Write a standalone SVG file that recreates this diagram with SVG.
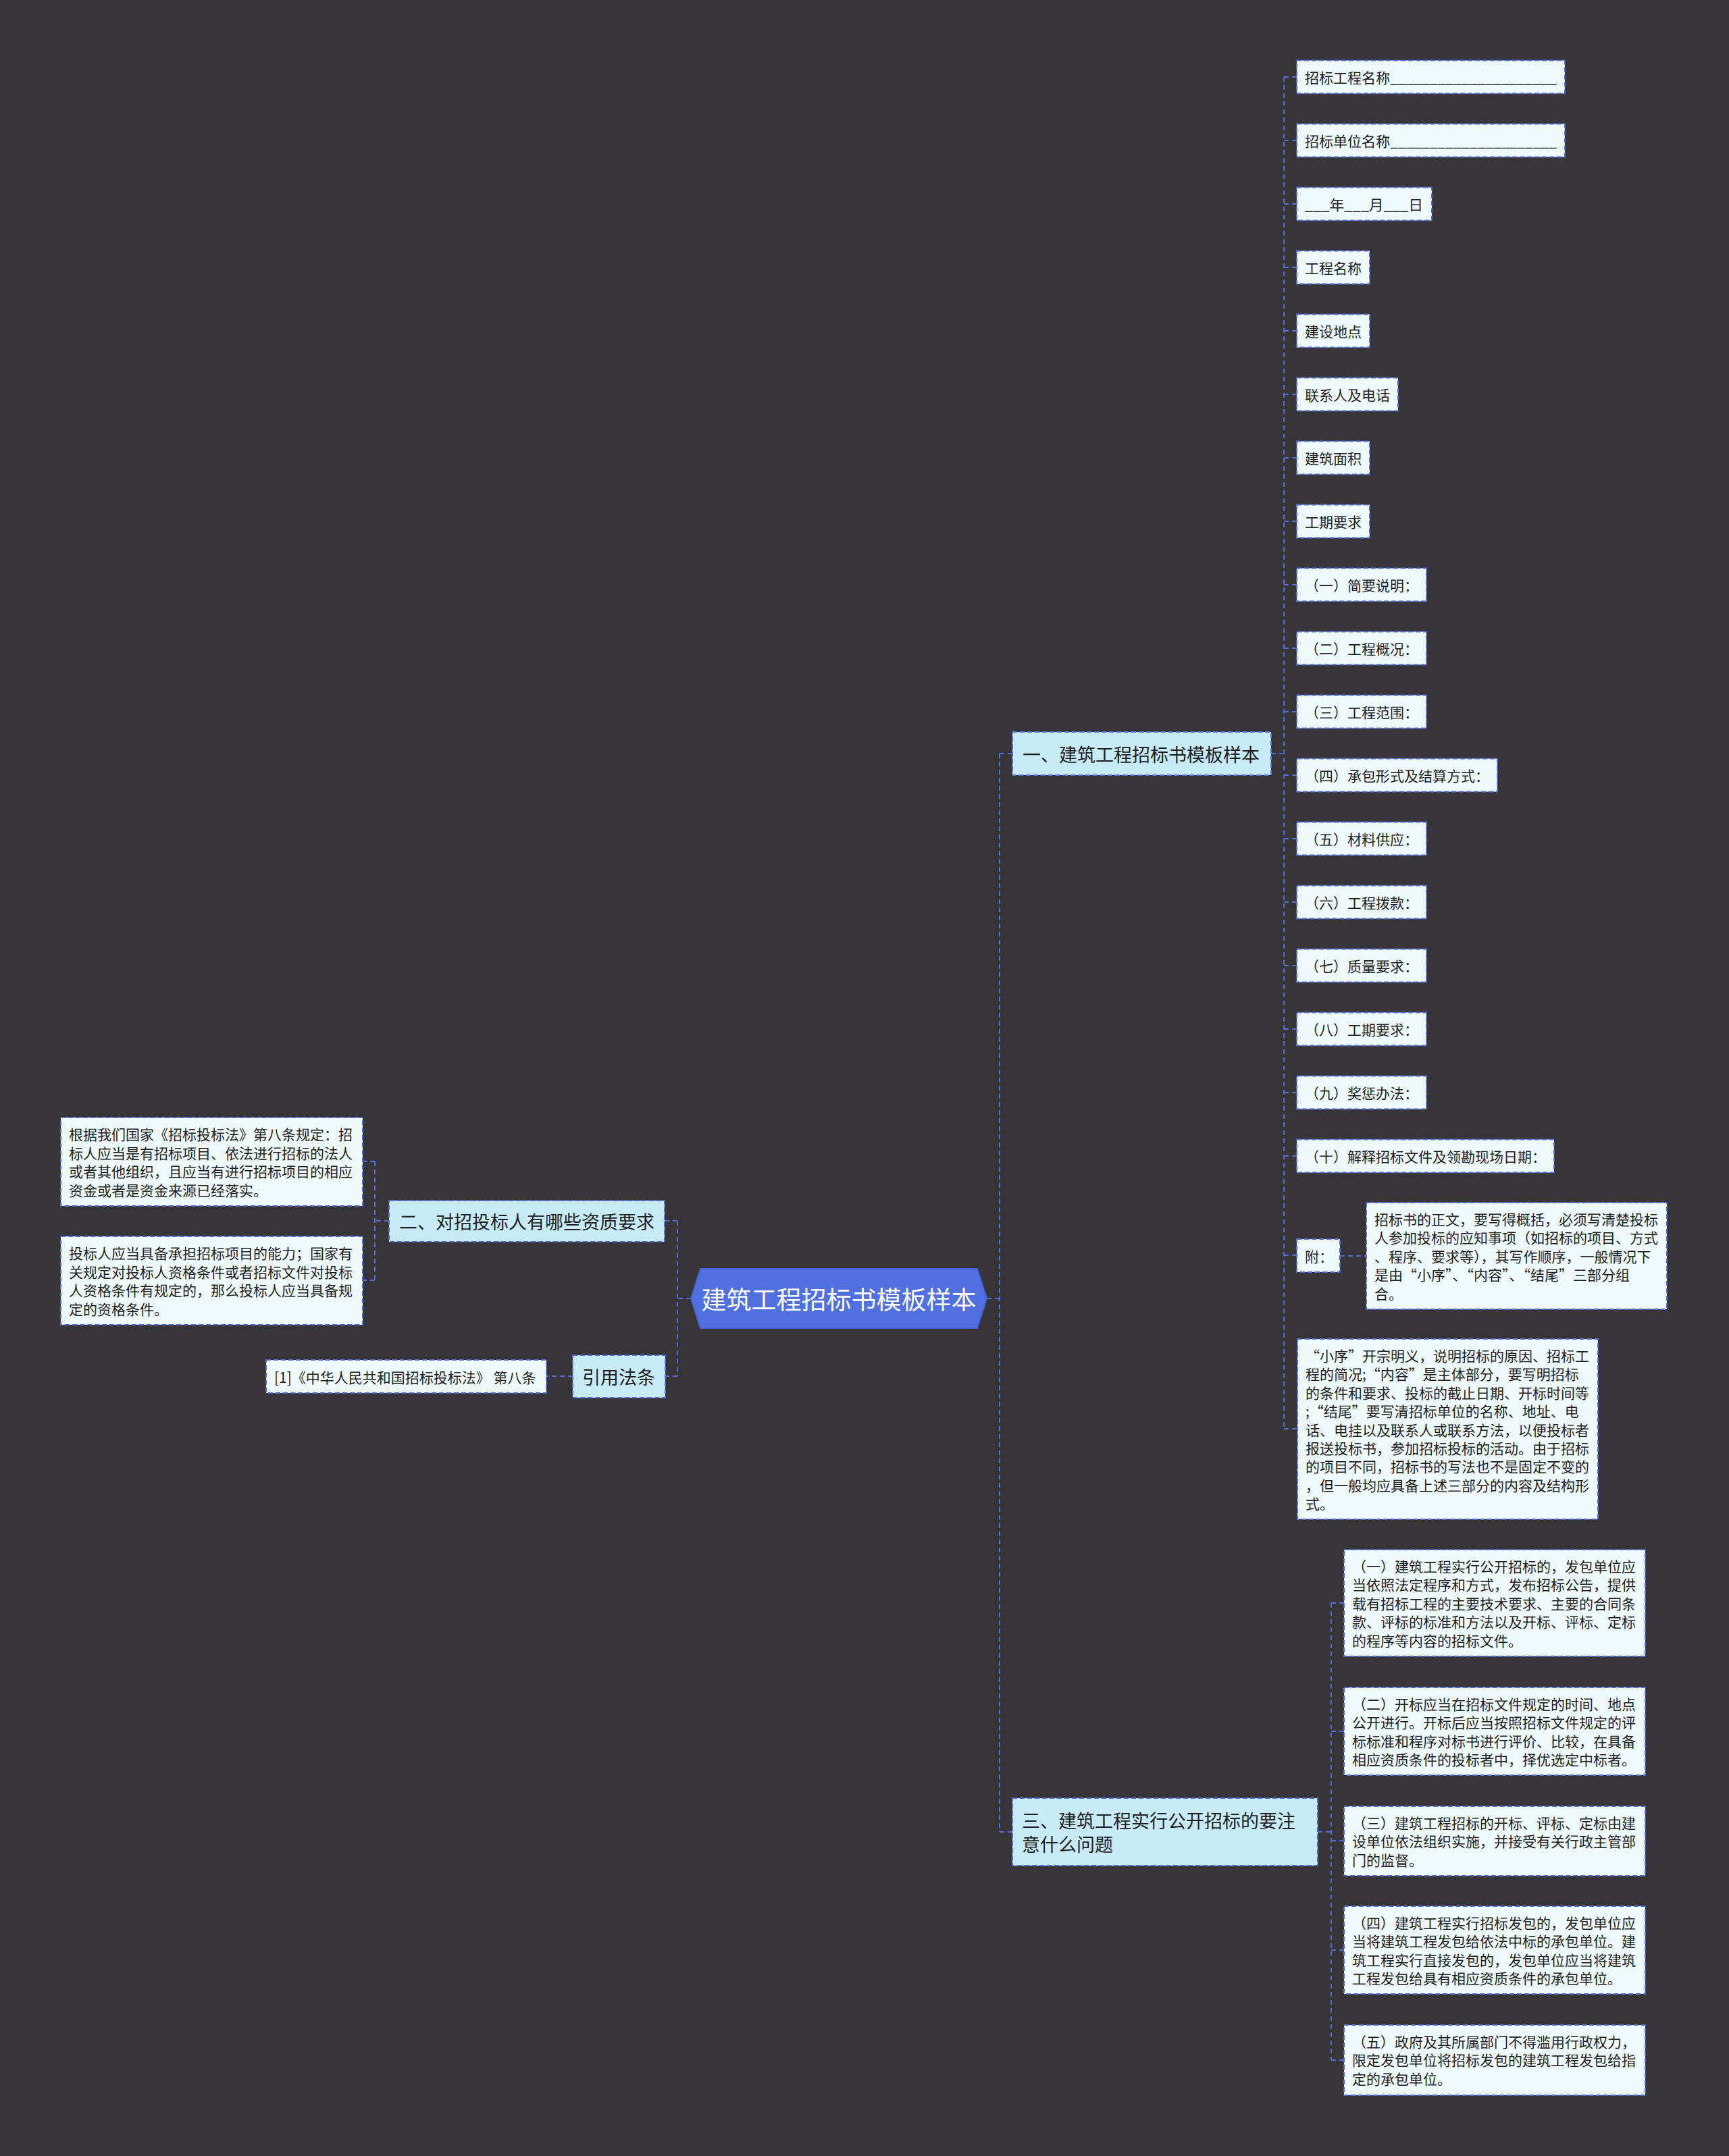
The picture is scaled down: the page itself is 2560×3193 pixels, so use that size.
<svg xmlns="http://www.w3.org/2000/svg" width="2560" height="3193" viewBox="0 0 2560 3193">
<style>
text{font-family:"Noto Sans CJK SC","Noto Sans",sans-serif;fill:#1e1e1e;dominant-baseline:central}
.leaf{fill:#EFFAFC;stroke:#4F6BD8;stroke-width:2;stroke-dasharray:7 4}
.br{fill:#C8EBFA;stroke:#4F6BD8;stroke-width:2;stroke-dasharray:7 4}
.s{font-size:21px}
.m{font-size:27px}
.c{fill:none;stroke:#5470D8;stroke-width:2;stroke-dasharray:7 5}
</style>
<rect x="0" y="0" width="2560" height="3193" fill="#373538"/>
<g id="connectors">
<path class="c" d="M1461 1923H1480M1480 1116V2713M1480 1116H1499M1480 2713H1499"/>
<path class="c" d="M1023 1923H1003M1003 1808V2038M1003 1808H984M1003 2038H984"/>
<path class="c" d="M1882 1116H1901M1901 114V2116"/>
<path class="c" d="M1901 114H1920M1901 208H1920M1901 302H1920M1901 396H1920M1901 490H1920M1901 584H1920M1901 678H1920M1901 772H1920M1901 866H1920M1901 960H1920M1901 1054H1920M1901 1148H1920M1901 1242H1920M1901 1336H1920M1901 1430H1920M1901 1524H1920M1901 1618H1920M1901 1712H1920M1901 1859H1920M1901 2116H1921"/>
<path class="c" d="M1984 1860H2023"/>
<path class="c" d="M576 1808H555M555 1720V1896M555 1720H537M555 1896H537"/>
<path class="c" d="M848 2038H809"/>
<path class="c" d="M1951 2713H1971M1971 2374V3051M1971 2374H1990M1971 2564H1990M1971 2726H1990M1971 2888H1990M1971 3051H1990"/>
</g>
<g id="root">
<polygon points="1023,1923 1037,1879 1447,1879 1461,1923 1447,1967 1037,1967" fill="#5070E0" stroke="#4663D0" stroke-width="2"/>
<text x="1242" y="1923" text-anchor="middle" style="font-size:37px;fill:#ffffff">建筑工程招标书模板样本</text>
</g>
<g id="b1">
<rect class="br" x="1499" y="1084" width="383" height="64"/>
<text class="m" x="1514" y="1116">一、建筑工程招标书模板样本</text>
</g>
<g id="b2">
<rect class="br" x="576" y="1778" width="408" height="61"/>
<text class="m" x="591" y="1808">二、对招投标人有哪些资质要求</text>
</g>
<g id="b4">
<rect class="br" x="848" y="2007" width="137" height="63"/>
<text class="m" x="862" y="2038">引用法条</text>
</g>
<g id="b3">
<rect class="br" x="1499" y="2663" width="452" height="100"/>
<text class="m" x="1513" y="2695.5">三、建筑工程实行公开招标的要注</text>
<text class="m" x="1513" y="2730.5">意什么问题</text>
</g>
<g id="n1"><rect class="leaf" x="1920" y="89.5" width="397" height="49"/><text class="s" x="1932" y="114" textLength="373" lengthAdjust="spacingAndGlyphs">招标工程名称_____________________</text></g>
<g id="n2"><rect class="leaf" x="1920" y="183.5" width="397" height="49"/><text class="s" x="1932" y="208" textLength="373" lengthAdjust="spacingAndGlyphs">招标单位名称_____________________</text></g>
<g id="n3"><rect class="leaf" x="1920" y="277.5" width="200" height="49"/><text class="s" x="1932" y="302" textLength="175" lengthAdjust="spacingAndGlyphs">___年___月___日</text></g>
<g id="n4"><rect class="leaf" x="1920" y="371.5" width="108" height="49"/><text class="s" x="1932" y="396">工程名称</text></g>
<g id="n5"><rect class="leaf" x="1920" y="465.5" width="108" height="49"/><text class="s" x="1932" y="490">建设地点</text></g>
<g id="n6"><rect class="leaf" x="1920" y="559.5" width="150" height="49"/><text class="s" x="1932" y="584">联系人及电话</text></g>
<g id="n7"><rect class="leaf" x="1920" y="653.5" width="108" height="49"/><text class="s" x="1932" y="678">建筑面积</text></g>
<g id="n8"><rect class="leaf" x="1920" y="747.5" width="108" height="49"/><text class="s" x="1932" y="772">工期要求</text></g>
<g id="n9"><rect class="leaf" x="1920" y="841.5" width="192" height="49"/><text class="s" x="1932" y="866">（一）简要说明：</text></g>
<g id="n10"><rect class="leaf" x="1920" y="935.5" width="192" height="49"/><text class="s" x="1932" y="960">（二）工程概况：</text></g>
<g id="n11"><rect class="leaf" x="1920" y="1029.5" width="192" height="49"/><text class="s" x="1932" y="1054">（三）工程范围：</text></g>
<g id="n12"><rect class="leaf" x="1920" y="1123.5" width="297" height="49"/><text class="s" x="1932" y="1148">（四）承包形式及结算方式：</text></g>
<g id="n13"><rect class="leaf" x="1920" y="1217.5" width="192" height="49"/><text class="s" x="1932" y="1242">（五）材料供应：</text></g>
<g id="n14"><rect class="leaf" x="1920" y="1311.5" width="192" height="49"/><text class="s" x="1932" y="1336">（六）工程拨款：</text></g>
<g id="n15"><rect class="leaf" x="1920" y="1405.5" width="192" height="49"/><text class="s" x="1932" y="1430">（七）质量要求：</text></g>
<g id="n16"><rect class="leaf" x="1920" y="1499.5" width="192" height="49"/><text class="s" x="1932" y="1524">（八）工期要求：</text></g>
<g id="n17"><rect class="leaf" x="1920" y="1593.5" width="192" height="49"/><text class="s" x="1932" y="1618">（九）奖惩办法：</text></g>
<g id="n18"><rect class="leaf" x="1920" y="1687.5" width="381" height="49"/><text class="s" x="1932" y="1712">（十）解释招标文件及领勘现场日期：</text></g>
<g id="n19"><rect class="leaf" x="1920" y="1835" width="64" height="49"/><text class="s" x="1932" y="1859.5">附：</text></g>
<g id="n20"><rect class="leaf" x="2023" y="1781" width="445" height="158"/>
<text class="s" x="2035" y="1805">招标书的正文，要写得概括，必须写清楚投标</text>
<text class="s" x="2035" y="1832.4">人参加投标的应知事项（如招标的项目、方式</text>
<text class="s" x="2035" y="1859.8">、程序、要求等），其写作顺序，一般情况下</text>
<text class="s" x="2035" y="1887.2">是由“小序”、“内容”、“结尾”三部分组</text>
<text class="s" x="2035" y="1914.6">合。</text>
</g>
<g id="n21"><rect class="leaf" x="1921" y="1983" width="445" height="267"/>
<text class="s" x="1933" y="2007">“小序”开宗明义，说明招标的原因、招标工</text>
<text class="s" x="1933" y="2034.4">程的简况;“内容”是主体部分，要写明招标</text>
<text class="s" x="1933" y="2061.8">的条件和要求、投标的截止日期、开标时间等</text>
<text class="s" x="1933" y="2089.2">;“结尾”要写清招标单位的名称、地址、电</text>
<text class="s" x="1933" y="2116.6">话、电挂以及联系人或联系方法，以便投标者</text>
<text class="s" x="1933" y="2144">报送投标书，参加招标投标的活动。由于招标</text>
<text class="s" x="1933" y="2171.4">的项目不同，招标书的写法也不是固定不变的</text>
<text class="s" x="1933" y="2198.8">，但一般均应具备上述三部分的内容及结构形</text>
<text class="s" x="1933" y="2226.2">式。</text>
</g>
<g id="l1"><rect class="leaf" x="90" y="1655" width="447" height="131"/>
<text class="s" x="102" y="1679.4">根据我们国家《招标投标法》第八条规定：招</text>
<text class="s" x="102" y="1706.8">标人应当是有招标项目、依法进行招标的法人</text>
<text class="s" x="102" y="1734.2">或者其他组织，且应当有进行招标项目的相应</text>
<text class="s" x="102" y="1761.6">资金或者是资金来源已经落实。</text>
</g>
<g id="l2"><rect class="leaf" x="90" y="1831" width="447" height="131"/>
<text class="s" x="102" y="1855.4">投标人应当具备承担招标项目的能力；国家有</text>
<text class="s" x="102" y="1882.8">关规定对投标人资格条件或者招标文件对投标</text>
<text class="s" x="102" y="1910.2">人资格条件有规定的，那么投标人应当具备规</text>
<text class="s" x="102" y="1937.6">定的资格条件。</text>
</g>
<g id="l3"><rect class="leaf" x="394" y="2014" width="415" height="49"/><text class="s" x="406" y="2038.5">[1]《中华人民共和国招标投标法》 第八条</text></g>
<g id="c1"><rect class="leaf" x="1990" y="2295" width="446" height="158"/>
<text class="s" x="2002" y="2319">（一）建筑工程实行公开招标的，发包单位应</text>
<text class="s" x="2002" y="2346.4">当依照法定程序和方式，发布招标公告，提供</text>
<text class="s" x="2002" y="2373.8">载有招标工程的主要技术要求、主要的合同条</text>
<text class="s" x="2002" y="2401.2">款、评标的标准和方法以及开标、评标、定标</text>
<text class="s" x="2002" y="2428.6">的程序等内容的招标文件。</text>
</g>
<g id="c2"><rect class="leaf" x="1990" y="2499" width="446" height="130"/>
<text class="s" x="2002" y="2523">（二）开标应当在招标文件规定的时间、地点</text>
<text class="s" x="2002" y="2550.4">公开进行。开标后应当按照招标文件规定的评</text>
<text class="s" x="2002" y="2577.8">标标准和程序对标书进行评价、比较，在具备</text>
<text class="s" x="2002" y="2605.2">相应资质条件的投标者中，择优选定中标者。</text>
</g>
<g id="c3"><rect class="leaf" x="1990" y="2675" width="446" height="103"/>
<text class="s" x="2002" y="2699">（三）建筑工程招标的开标、评标、定标由建</text>
<text class="s" x="2002" y="2726.4">设单位依法组织实施，并接受有关行政主管部</text>
<text class="s" x="2002" y="2753.8">门的监督。</text>
</g>
<g id="c4"><rect class="leaf" x="1990" y="2823" width="446" height="130"/>
<text class="s" x="2002" y="2847">（四）建筑工程实行招标发包的，发包单位应</text>
<text class="s" x="2002" y="2874.4">当将建筑工程发包给依法中标的承包单位。建</text>
<text class="s" x="2002" y="2901.8">筑工程实行直接发包的，发包单位应当将建筑</text>
<text class="s" x="2002" y="2929.2">工程发包给具有相应资质条件的承包单位。</text>
</g>
<g id="c5"><rect class="leaf" x="1990" y="2999" width="446" height="104"/>
<text class="s" x="2002" y="3023">（五）政府及其所属部门不得滥用行政权力，</text>
<text class="s" x="2002" y="3050.4">限定发包单位将招标发包的建筑工程发包给指</text>
<text class="s" x="2002" y="3077.8">定的承包单位。</text>
</g>
</svg>
